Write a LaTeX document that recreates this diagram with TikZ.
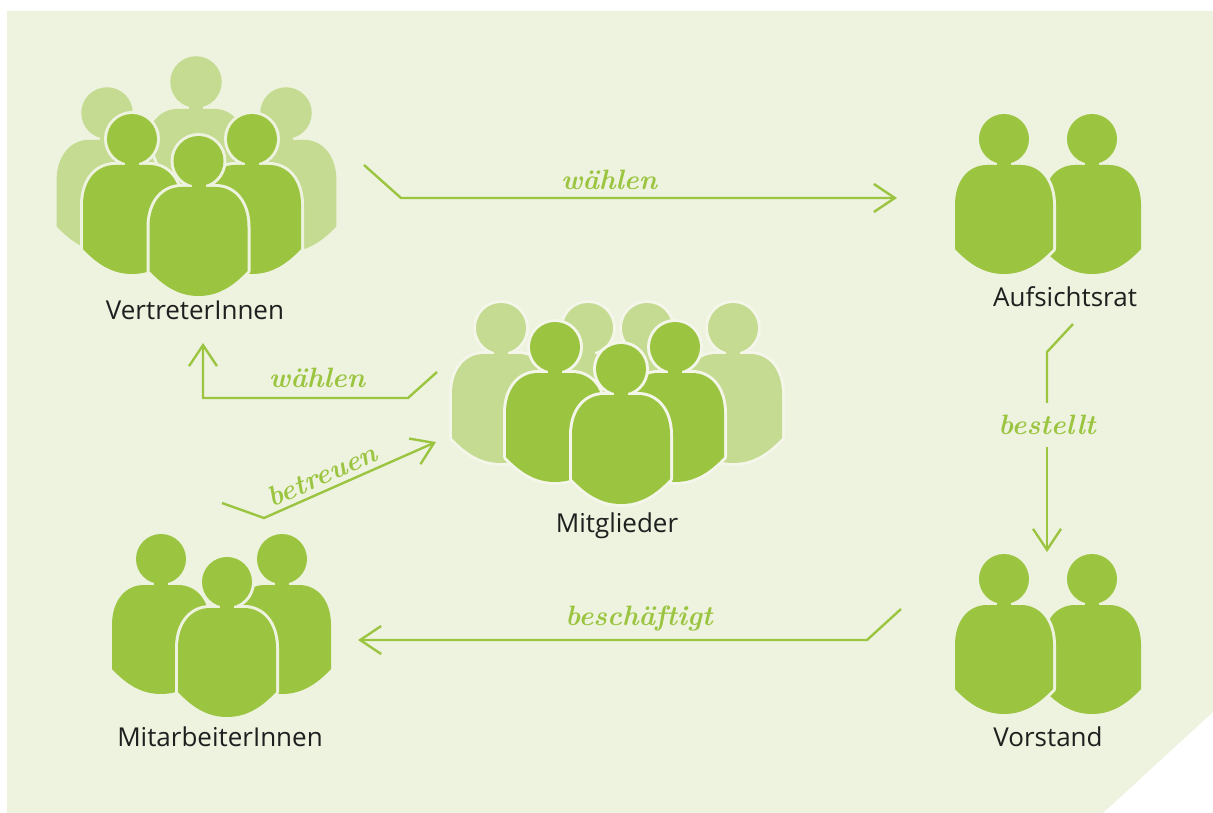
\documentclass[tikz,border=0pt]{standalone}
\usepackage{fontspec}
\setsansfont{Open Sans}
\usetikzlibrary{arrows.meta,positioning}

\definecolor{paper}{HTML}{EEF3DF}
\definecolor{leaf}{HTML}{9BC541}
\definecolor{paleleaf}{HTML}{C4DB91}
\definecolor{rim}{HTML}{F3F6E8}

\tikzset{
  label/.style={font=\sffamily\fontsize{26}{28}\selectfont, text=black!88, inner sep=0pt},
  verb/.style={font=\bfseries\itshape\fontsize{28}{32}\selectfont\addfontfeature{FakeBold=1.5}, text=leaf, inner sep=0pt},
  link/.style={draw=leaf, line width=2.4pt, line join=miter, ->},
  plain link/.style={draw=leaf, line width=2.4pt},
  >={Straight Barb[length=21pt,width=28pt]}
}

% x, y, scale, fill colour, rim colour
\newcommand{\person}[5]{
  \begin{scope}[shift={(#1,#2)},scale=#3]
    \def\personhead{(0,0) circle [radius=25]}
    \def\personneck{(-7,18) rectangle (7,28)}
    \def\personbody{(-49,110) -- (-49,66) .. controls (-49,42) and (-36,26) .. (-17,26)
      -- (17,26) .. controls (36,26) and (49,42) .. (49,66) -- (49,110)
      .. controls (34,126) and (19,135) .. (0,135)
      .. controls (-19,135) and (-34,126) .. (-49,110) -- cycle}
    \draw [#5, line width=6pt, line join=round] \personhead \personbody;
    \fill [#4] \personhead;
    \fill [#4] \personneck;
    \fill [#4] \personbody;
  \end{scope}
}

\begin{document}
\begin{tikzpicture}[x=1pt, y=-1pt]
\useasboundingbox (0,0) rectangle (1213,813);
\fill [paper] (7,11) -- (1213,11) -- (1213,712) -- (1103,813) -- (7,813) -- cycle;

% VertreterInnen
\foreach \x/\y in {196/82, 107/113, 286/113}
  \person{\x}{\y}{1.03}{paleleaf}{paper};
\foreach \x/\y in {132/139, 252/139, 198.5/161}
  \person{\x}{\y}{1}{leaf}{paper};

% Mitglieder
\foreach \x in {588, 647, 501, 733}
  \person{\x}{328}{1}{paleleaf}{rim};
\foreach \x/\y in {555/347, 675/347, 621/369}
  \person{\x}{\y}{1}{leaf}{rim};

% MitarbeiterInnen
\foreach \x/\y in {161/559, 282/559, 227/582}
  \person{\x}{\y}{1}{leaf}{paper};

% Aufsichtsrat und Vorstand
\foreach \y in {139, 579} {
  \person{1092}{\y}{1}{leaf}{paper};
  \person{1004}{\y}{1}{leaf}{paper};
}

\node [label] (vertreter) at (195,310) {VertreterInnen};
\node [label] (aufsichtsrat) at (1065,297) {Aufsichtsrat};
\node [label] (mitglieder) at (617,526) {Mitglieder};
\node [label] (mitarbeiter) at (220,737) {MitarbeiterInnen};
\node [label] (vorstand) at (1048,737) {Vorstand};

\node [verb] (waehlen_a) at (609,180) {wählen};
\node [verb] (waehlen_b) at (317,378) {wählen};
\node [verb, rotate=24] (betreuen) at (322,475) {betreuen};
\node [verb, minimum height=44pt] (bestellt) at (1047,425) {bestellt};
\node [verb] (beschaeftigt) at (639,618) {beschäftigt};

\coordinate (a_start) at (364,165);
\coordinate (a_bend) at (401,198);
\coordinate (a_end) at (897,198);
\coordinate (b_start) at (437,372);
\coordinate (b_bend) at (408,398);
\coordinate (b_corner) at (203,398);
\coordinate (b_end) at (203,343);
\coordinate (c_start) at (222,503);
\coordinate (c_bend) at (264,518);
\coordinate (c_end) at (436,442);
\coordinate (d_start) at (1073,324);
\coordinate (d_bend) at (1047,352);
\coordinate (d_end) at (1047,552);
\coordinate (e_start) at (901,609);
\coordinate (e_bend) at (867,640);
\coordinate (e_end) at (358,640);

\draw [link] (a_start) -- (a_bend) -- (a_end);
\draw [link] (b_start) -- (b_bend) -- (b_corner) -- (b_end);
\draw [link] (c_start) -- (c_bend) -- (c_end);
\draw [plain link] (d_start) -- (d_bend) -- (bestellt.north -| d_bend);
\draw [link] (bestellt.south -| d_bend) -- (d_end);
\draw [link] (e_start) -- (e_bend) -- (e_end);
\end{tikzpicture}
\end{document}
